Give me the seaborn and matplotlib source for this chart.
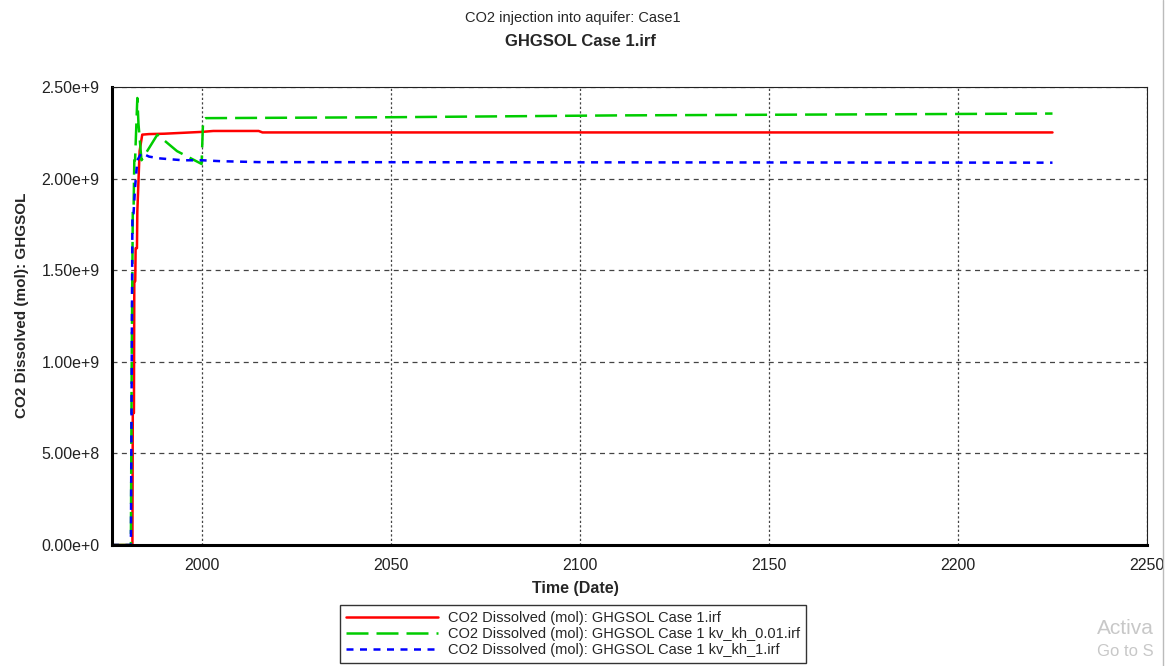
import numpy as np
import pandas as pd
import matplotlib
matplotlib.use("Agg")
import matplotlib.pyplot as plt
import matplotlib.ticker as mticker
import seaborn as sns

# ---- data (time in decimal years, values in mol) ----
red_t = [1976.2, 1981.6, 1981.7, 1982.0, 1982.1, 1982.35, 1982.45, 1982.8, 1982.9, 1983.5,
         1984.2, 1986.0, 1990.0, 1995.0, 2000.0, 2003.0, 2015.0, 2016.0, 2100.0, 2225.0]
red_v = [0.0, 0.0, 0.72e9, 0.72e9, 1.44e9, 1.44e9, 1.62e9, 1.62e9, 1.82e9, 2.15e9,
         2.24e9, 2.243e9, 2.245e9, 2.25e9, 2.255e9, 2.26e9, 2.26e9, 2.252e9, 2.252e9, 2.252e9]

green_t = [1976.2, 1981.2, 1981.4, 1981.7, 1981.9, 1982.1, 1982.3, 1982.9, 1983.2, 1983.6,
           1984.0, 1988.2, 1993.4, 1999.9, 2000.3, 2001.0, 2050.0, 2110.0, 2225.0]
green_v = [0.0, 0.0, 0.95e9, 1.82e9, 1.82e9, 2.10e9, 2.10e9, 2.44e9, 2.30e9, 2.20e9,
           2.10e9, 2.24e9, 2.15e9, 2.08e9, 2.32e9, 2.33e9, 2.335e9, 2.345e9, 2.355e9]

blue_t = [1976.2, 1981.2, 1981.4, 1981.6, 1981.9, 1982.3, 1982.9, 1984.0, 1986.0, 1989.0,
          1995.0, 2000.0, 2005.0, 2015.0, 2225.0]
blue_v = [0.0, 0.0, 0.9e9, 1.81e9, 1.81e9, 1.95e9, 2.10e9, 2.14e9, 2.12e9, 2.11e9,
          2.10e9, 2.10e9, 2.095e9, 2.09e9, 2.087e9]

labels = ["CO2 Dissolved (mol): GHGSOL Case 1.irf",
          "CO2 Dissolved (mol): GHGSOL Case 1 kv_kh_0.01.irf",
          "CO2 Dissolved (mol): GHGSOL Case 1 kv_kh_1.irf"]
x_ticks = [2000, 2050, 2100, 2150, 2200, 2250]
y_ticks = [0.0, 0.5e9, 1.0e9, 1.5e9, 2.0e9, 2.5e9]

sns.set_style("white")
plt.rcParams['font.family'] = ['Liberation Sans', 'DejaVu Sans']

fig = plt.figure(figsize=(11.72, 6.66), dpi=100)
ax = fig.add_axes([112/1172, 1-545/666, (1147-112)/1172, (545-87)/666])

sns.lineplot(x=red_t, y=red_v, ax=ax, color="#ff0000", lw=1.8, estimator=None, sort=False,
             label=labels[0])
sns.lineplot(x=green_t, y=green_v, ax=ax, color="#00cc00", lw=1.8, estimator=None, sort=False,
             label=labels[1])
sns.lineplot(x=blue_t, y=blue_v, ax=ax, color="#0000ff", lw=1.8, estimator=None, sort=False,
             label=labels[2])
ax.lines[1].set_dashes([8.8, 3.2])
ax.lines[2].set_dashes([2.8, 2.6])

ax.set_xlim(1976.2, 2250)
ax.set_ylim(0, 2.5e9)
ax.set_xticks(x_ticks)
ax.set_yticks(y_ticks)

def yfmt(v, pos):
    if v == 0:
        return "0.00e+0"
    e = int(np.floor(np.log10(abs(v)) + 1e-9))
    return f"{v/10**e:.2f}e+{e}"
ax.yaxis.set_major_formatter(mticker.FuncFormatter(yfmt))

ax.yaxis.grid(True, color="#444444", linestyle=(0, (4, 3.5)), linewidth=0.9)
ax.xaxis.grid(True, color="#444444", linestyle=(0, (1.8, 1.8)), linewidth=0.9)
for s in ["top", "right"]:
    ax.spines[s].set_color("#222222")
    ax.spines[s].set_linewidth(0.8)
for s in ["left", "bottom"]:
    ax.spines[s].set_color("black")
    ax.spines[s].set_linewidth(2.2)
ax.tick_params(axis="both", direction="out", length=6, width=1.8, color="black",
               labelsize=11.5, pad=3, labelcolor="#222222")

ax.set_xlabel("Time (Date)", fontsize=11.5, fontweight="bold", labelpad=5)
ax.xaxis.set_label_coords((575-112)/1035, -0.078)
ax.set_ylabel("CO2 Dissolved (mol): GHGSOL", fontsize=11, fontweight="bold")
ax.yaxis.set_label_coords(-(112-29)/1035, (545-305)/458)

fig.text(573/1172, 1-18/666, "CO2 injection into aquifer: Case1", ha="center", va="center",
         fontsize=10.5)
fig.text(580/1172, 1-42/666, "GHGSOL Case 1.irf", ha="center", va="center", fontsize=12,
         fontweight="bold")

h, l = ax.get_legend_handles_labels()
ax.get_legend().remove()
leg = fig.legend(h, l, loc="center", bbox_to_anchor=(573/1172, 1-634/666), ncol=1,
                 fontsize=10.5, frameon=True, fancybox=False, edgecolor="black",
                 handlelength=6.3, handletextpad=0.7, labelspacing=0.12, borderpad=0.42,
                 borderaxespad=0)
leg.get_frame().set_linewidth(1.0)

# screenshot watermark remnants
fig.text(1097/1172, 1-628/666, "Activa", fontsize=15, color="#c8c8c8", va="center")
fig.text(1097/1172, 1-652/666, "Go to S", fontsize=12, color="#c8c8c8", va="center")
fig.patches.append(plt.Rectangle((1163/1172, 0), 9/1172, 1, transform=fig.transFigure,
                                 facecolor="white", edgecolor="none", zorder=10))
fig.lines.append(plt.Line2D([1163/1172, 1163/1172], [0, 1], transform=fig.transFigure,
                            color="#bbbbbb", lw=1, zorder=11))

fig.savefig("out.png", dpi=100)
